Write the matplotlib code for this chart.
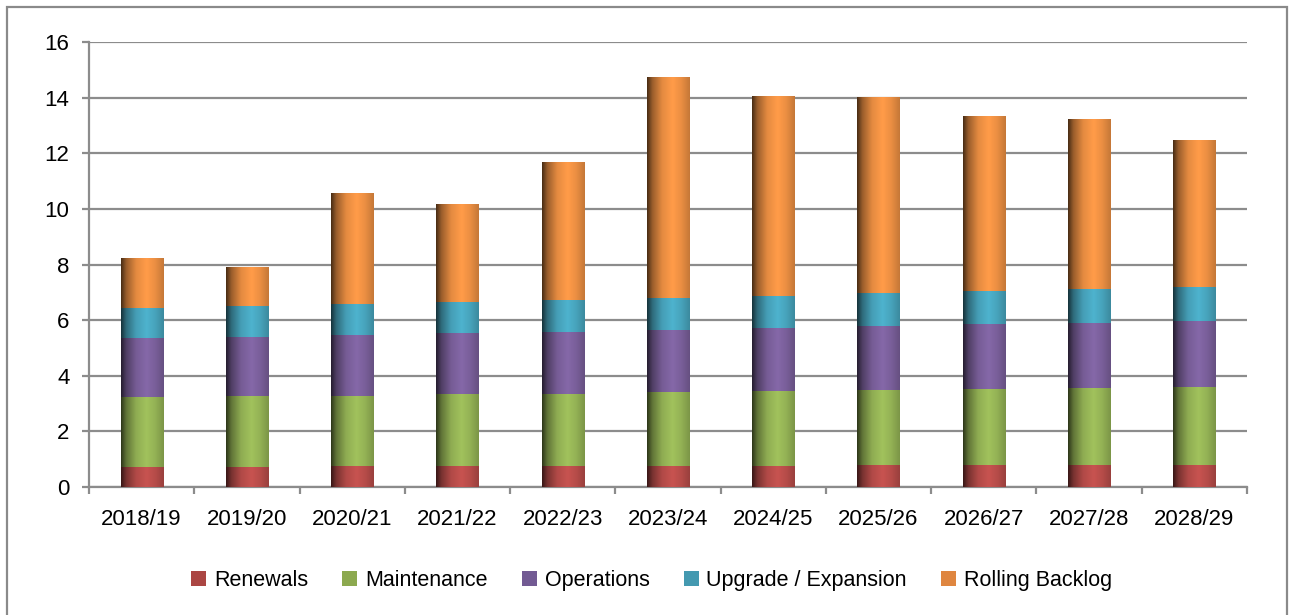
import numpy as np
import matplotlib
matplotlib.use("Agg")
import matplotlib.pyplot as plt
from matplotlib.colors import to_rgb
from matplotlib.patches import Patch, Rectangle

plt.rcParams['font.family'] = ['Liberation Sans', 'DejaVu Sans']

# ---------------------------------------------------------------
# DATA
# ---------------------------------------------------------------
years = ["2018/19", "2019/20", "2020/21", "2021/22", "2022/23", "2023/24",
         "2024/25", "2025/26", "2026/27", "2027/28", "2028/29"]

renewals = [0.73, 0.73, 0.74, 0.74, 0.75, 0.76, 0.77, 0.78, 0.79, 0.79, 0.80]
maintenance = [2.49, 2.53, 2.55, 2.59, 2.61, 2.65, 2.67, 2.70, 2.72, 2.77, 2.80]
operations = [2.13, 2.14, 2.18, 2.19, 2.22, 2.24, 2.28, 2.31, 2.35, 2.35, 2.37]
upgrade = [1.10, 1.12, 1.11, 1.12, 1.13, 1.16, 1.16, 1.17, 1.18, 1.20, 1.21]
backlog = [1.78, 1.40, 3.97, 3.51, 4.93, 7.91, 7.18, 7.02, 6.27, 6.08, 5.26]

series_names = ["Renewals", "Maintenance", "Operations",
                "Upgrade / Expansion", "Rolling Backlog"]
series_values = [renewals, maintenance, operations, upgrade, backlog]
bar_colors = ["#C0504D", "#9BBB59", "#8064A2", "#4BACC6", "#F79646"]
legend_colors = ["#AB4643", "#8CA94F", "#725A93", "#4499B0", "#DF8640"]

GRID = "#8c8c8c"


def cylinder_image(color, n=64):
    """Horizontal shading like the Excel 2007 cylinder gradient."""
    base = np.array(to_rgb(color))
    pos = [0.0, 0.12, 0.35, 0.6, 0.8, 1.0]
    fac = [0.30, 0.62, 0.92, 1.04, 0.95, 0.80]
    f = np.interp(np.linspace(0, 1, n), pos, fac)
    img = np.clip(base[None, :] * f[:, None], 0, 1)
    return img[None, :, :]


fig = plt.figure(figsize=(12.93, 6.15), dpi=100)
ax = fig.add_axes([0.0688, 0.2081, 0.8956, 0.7236])

# outer frame of the chart area
fig.patches.append(Rectangle((7 / 1293, -0.05), 1280 / 1293, 1.05 - 7 / 615,
                             transform=fig.transFigure, fill=False,
                             edgecolor="#8a8a8a", linewidth=1.6))

x = np.arange(len(years))
bottom = np.zeros(len(years))
for vals, col in zip(series_values, bar_colors):
    bars = ax.bar(x, vals, width=0.40, bottom=bottom, color=col,
                  linewidth=0, zorder=3)
    img = cylinder_image(col)
    for b in bars:
        x0, y0 = b.get_x(), b.get_y()
        ax.imshow(img, extent=(x0, x0 + b.get_width(), y0, y0 + b.get_height()),
                  aspect="auto", interpolation="bilinear", zorder=4)
    bottom += np.array(vals)

ax.set_xlim(-0.5, len(years) - 0.5)
ax.set_ylim(0, 16)
ax.set_yticks(np.arange(0, 17, 2))
ax.yaxis.grid(True, color=GRID, linewidth=1.6, zorder=1)
ax.set_axisbelow(True)

ax.set_xticks(x)
ax.set_xticklabels(years)
ax.set_xticks(np.arange(-0.5, len(years), 1), minor=True)
ax.tick_params(axis="x", which="major", length=0, pad=16, labelsize=16)
ax.tick_params(axis="x", which="minor", length=5, width=1.6, color=GRID)
ax.tick_params(axis="y", length=5, width=1.6, color=GRID, pad=9, labelsize=16)

for s in ["top", "right"]:
    ax.spines[s].set_visible(False)
for s in ["left", "bottom"]:
    ax.spines[s].set_color(GRID)
    ax.spines[s].set_linewidth(1.6)

handles = [Patch(facecolor=c, edgecolor="none") for c in legend_colors]
fig.legend(handles, series_names, loc="center", bbox_to_anchor=(0.504, 0.056),
           ncol=5, frameon=False, fontsize=15.5, handlelength=0.7,
           handleheight=0.7, handletextpad=0.35, columnspacing=1.6)

fig.savefig("out.png", dpi=100)
